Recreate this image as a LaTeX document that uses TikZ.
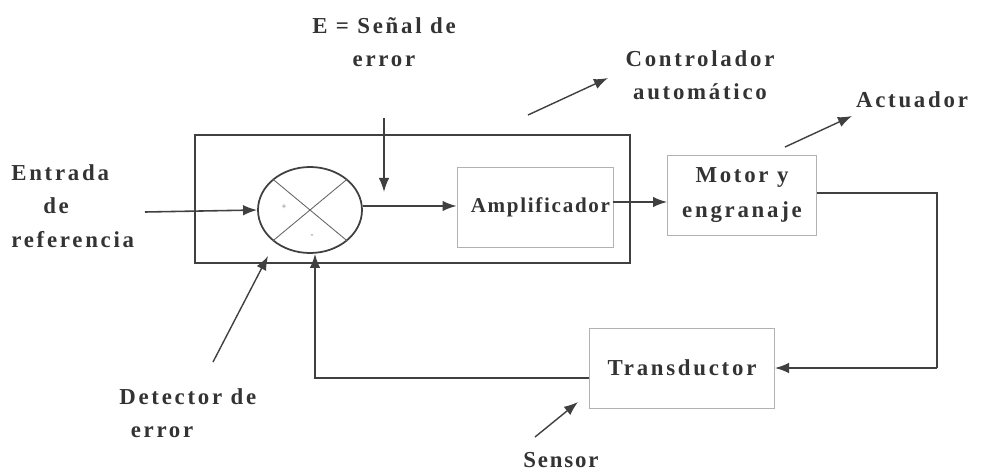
\documentclass[tikz,border=0pt]{standalone}
\usepackage{fontspec}
\setmainfont{Liberation Serif}[LetterSpace=12]
\newfontfamily\narrowfam{Liberation Serif}[LetterSpace=8]
\usetikzlibrary{arrows.meta,shapes.geometric}
\begin{document}
\begin{tikzpicture}[x=0.02cm,y=-0.02cm,
  lbl/.style={font=\bfseries\fontsize{13}{19}\selectfont,text=black!80,align=center,inner sep=0pt},
  blk/.style={draw=black!30,line width=0.5pt,minimum width=#1,font=\bfseries\fontsize{13}{19.5}\selectfont,text=black!80,align=center},
  wire/.style={draw=black!75,line width=0.9pt},
  arr/.style={wire,-{Latex[length=8pt,width=6pt]}},
  ptr/.style={draw=black!75,line width=0.8pt,-{Latex[length=8pt,width=6pt]}}]
\useasboundingbox (0,0) rectangle (986,473);
% controller frame
\node[draw=black!75,line width=0.8pt,minimum width=435*0.02cm,minimum height=128*0.02cm,inner sep=0pt] (ctrl) at (412.5,199) {};
% error detector
\node[draw=black!75,line width=1pt,ellipse,minimum width=104*0.02cm,minimum height=86*0.02cm,inner sep=0pt] (det) at (310,210) {};
\draw[black!60,line width=0.5pt] (det.north west) -- (det.south east) (det.north east) -- (det.south west);
\node[font=\tiny,text=black!60] (plus) at (284,207) {+};
\node[font=\tiny,text=black!60] (minus) at (312,236) {-};
% blocks
\node[blk=156*0.02cm,minimum height=80*0.02cm,inner xsep=3*0.02cm,text width=150*0.02cm,align=right,font=\narrowfam\bfseries\fontsize{12}{18}\selectfont] (amp) at (535,207) {Amplificador};
\node[blk=149*0.02cm,minimum height=80*0.02cm] (mot) at (742,195) {Motor y\\engranaje};
\node[blk=185*0.02cm,minimum height=80*0.02cm] (tra) at (682,368) {Transductor};
% labels
\node[lbl,align=left,anchor=west] (ref) at (11,206) {Entrada\\\hspace*{1.4em}de\\referencia};
\node[lbl] (err) at (384,42) {E = Señal de\\error};
\node[lbl] (con) at (700,75) {Controlador\\automático};
\node[lbl] (act) at (912,100) {Actuador};
\node[lbl,align=left,anchor=west] (ded) at (119,413) {Detector de\\\hspace*{0.5em}error};
\node[lbl,font=\narrowfam\bfseries\fontsize{13}{19}\selectfont] (sen) at (561,460) {Sensor};
% coordinates
\coordinate (refin) at (145,212);
\coordinate (errtop) at (384,118);
\coordinate (errend) at (384,192);
\coordinate (c1) at (937,193);
\coordinate (c2) at (937,368);
\coordinate (c3) at (315,378);
\coordinate (d1) at (213,362);
\coordinate (d2) at (268,256);
\coordinate (s1) at (535,437);
\coordinate (s2) at (578,402);
\coordinate (k1) at (528,115);
\coordinate (k2) at (608,78);
\coordinate (a1) at (785,147);
\coordinate (a2) at (852,116);
% connectors
\draw[arr] (refin) -- (det.west);
\draw[arr] (errtop) -- (errend);
\draw[arr] (det.east |- 0,206) -- (amp.west |- 0,206);
\draw[arr] (amp.east |- 0,202) -- (mot.west |- 0,202);
\draw[wire] (mot.east |- c1) -- (c1) -- (c2);
\draw[arr] (c2) -- (tra.east |- c2);
\draw[arr] (tra.west |- c3) -- (c3) -- (det.south -| c3);
\draw[ptr] (d1) -- (d2);
\draw[ptr] (s1) -- (s2);
\draw[ptr] (k1) -- (k2);
\draw[ptr] (a1) -- (a2);
\end{tikzpicture}
\end{document}
